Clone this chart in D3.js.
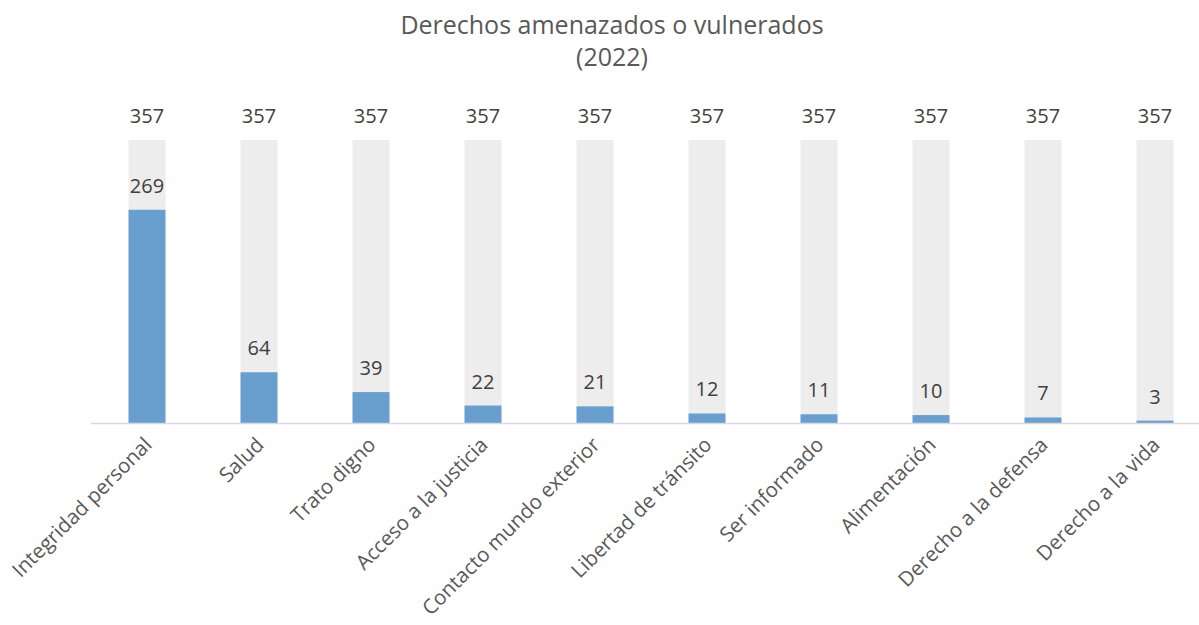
<!DOCTYPE html>
<html>
<head>
<meta charset="utf-8">
<script src="https://cdn.jsdelivr.net/npm/d3@7"></script>
<style>
  body { margin: 0; background: #fff; }
  text { font-family: "Open Sans", sans-serif; }
</style>
</head>
<body>
<div id="chart"></div>
<script>
// data
const categories = ["Integridad personal", "Salud", "Trato digno", "Acceso a la justicia",
  "Contacto mundo exterior", "Libertad de tránsito", "Ser informado", "Alimentación",
  "Derecho a la defensa", "Derecho a la vida"];
const totals = [357, 357, 357, 357, 357, 357, 357, 357, 357, 357];
const values = [269, 64, 39, 22, 21, 12, 11, 10, 7, 3];
const titleLines = ["Derechos amenazados o vulnerados", "(2022)"];

const width = 1199, height = 625;

const svg = d3.select("#chart")
  .append("svg")
  .attr("width", width)
  .attr("height", height);

const x = d3.scaleBand()
  .domain(categories)
  .range([91, 1211])
  .paddingInner(0.67)
  .paddingOuter(0.335);

const y = d3.scaleLinear()
  .domain([0, 357])
  .range([423, 140]);

// title
svg.append("text")
  .attr("x", 612)
  .attr("y", 34)
  .attr("text-anchor", "middle")
  .attr("fill", "#595959")
  .style("font-size", "25px")
  .selectAll("tspan")
  .data(titleLines)
  .enter()
  .append("tspan")
  .attr("x", 612)
  .attr("dy", (d, i) => i === 0 ? 0 : 32)
  .text(d => d);

// background bars (totals)
svg.selectAll(".total")
  .data(categories)
  .enter()
  .append("rect")
  .attr("class", "total")
  .attr("x", d => x(d))
  .attr("width", x.bandwidth())
  .attr("y", (d, i) => y(totals[i]))
  .attr("height", (d, i) => y(0) - y(totals[i]))
  .attr("fill", "#ededed");

// value bars
svg.selectAll(".value")
  .data(categories)
  .enter()
  .append("rect")
  .attr("class", "value")
  .attr("x", d => x(d))
  .attr("width", x.bandwidth())
  .attr("y", (d, i) => y(values[i]))
  .attr("height", (d, i) => y(0) - y(values[i]))
  .attr("fill", "#699fcf");

// axis line
svg.append("line")
  .attr("x1", 91)
  .attr("x2", 1199)
  .attr("y1", y(0) + 0.5)
  .attr("y2", y(0) + 0.5)
  .attr("stroke", "#d9d9d9")
  .attr("stroke-width", 1.5);

// labels
svg.selectAll(".totalLabel")
  .data(categories)
  .enter()
  .append("text")
  .attr("class", "totalLabel")
  .attr("x", d => x(d) + x.bandwidth() / 2)
  .attr("y", (d, i) => y(totals[i]) - 17)
  .attr("text-anchor", "middle")
  .attr("fill", "#404040")
  .style("font-size", "20px")
  .text((d, i) => totals[i]);

svg.selectAll(".valueLabel")
  .data(categories)
  .enter()
  .append("text")
  .attr("class", "valueLabel")
  .attr("x", d => x(d) + x.bandwidth() / 2)
  .attr("y", (d, i) => y(values[i]) - 17)
  .attr("text-anchor", "middle")
  .attr("fill", "#404040")
  .style("font-size", "20px")
  .text((d, i) => values[i]);

// category labels
svg.selectAll(".cat")
  .data(categories)
  .enter()
  .append("text")
  .attr("class", "cat")
  .attr("text-anchor", "end")
  .attr("fill", "#595959")
  .style("font-size", "20.5px")
  .attr("transform", d => "translate(" + (x(d) + x.bandwidth() / 2 + 1) + ",441) rotate(-45)")
  .attr("dy", "0.35em")
  .text(d => d);
</script>
</body>
</html>
